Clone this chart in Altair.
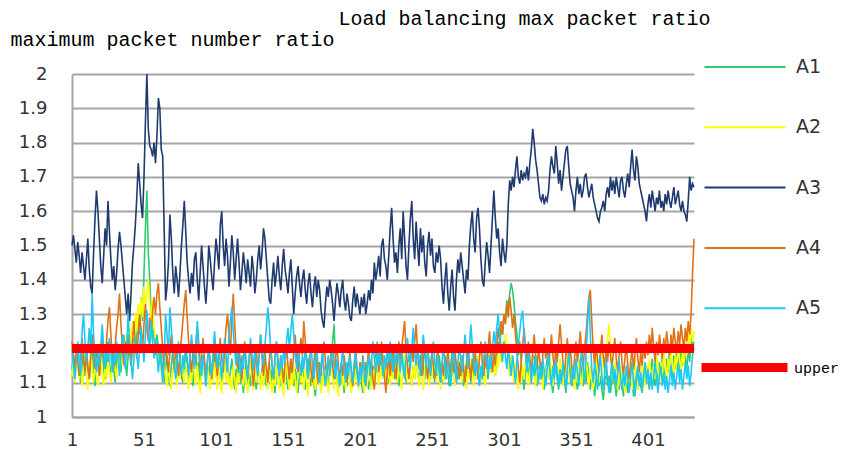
import altair as alt
import pandas as pd

A1 = [
    1.14, 1.18, 1.12, 1.16, 1.20, 1.13, 1.10, 1.15, 1.19, 1.12, 1.17, 1.14, 1.11, 1.16, 1.21, 1.13, 1.09, 1.15, 1.18, 1.12,
    1.16, 1.20, 1.14, 1.11, 1.17, 1.22, 1.15, 1.12, 1.18, 1.14, 1.10, 1.16, 1.21, 1.17, 1.13, 1.19, 1.24, 1.16, 1.12, 1.18,
    1.22, 1.15, 1.20, 1.26, 1.19, 1.23, 1.30, 1.24, 1.35, 1.28, 1.42, 1.55, 1.66, 1.48, 1.40, 1.30, 1.22, 1.26, 1.18, 1.24,
    1.20, 1.15, 1.19, 1.13, 1.10, 1.14, 1.18, 1.12, 1.09, 1.15, 1.19, 1.13, 1.16, 1.11, 1.14, 1.18, 1.12, 1.10, 1.15, 1.20,
    1.14, 1.11, 1.17, 1.13, 1.09, 1.15, 1.19, 1.12, 1.16, 1.10, 1.14, 1.18, 1.13, 1.09, 1.15, 1.12, 1.17, 1.11, 1.14, 1.19,
    1.13, 1.10, 1.16, 1.12, 1.08, 1.14, 1.18, 1.11, 1.15, 1.10, 1.13, 1.17, 1.12, 1.08, 1.14, 1.11, 1.16, 1.10, 1.13, 1.07,
    1.12, 1.16, 1.10, 1.14, 1.09, 1.13, 1.17, 1.11, 1.08, 1.15, 1.12, 1.10, 1.14, 1.18, 1.12, 1.09, 1.13, 1.16, 1.10, 1.14,
    1.11, 1.07, 1.13, 1.17, 1.12, 1.09, 1.14, 1.10, 1.16, 1.12, 1.08, 1.13, 1.17, 1.11, 1.09, 1.14, 1.12, 1.07, 1.13, 1.10,
    1.15, 1.11, 1.08, 1.13, 1.17, 1.12, 1.09, 1.14, 1.10, 1.06, 1.12, 1.16, 1.11, 1.08, 1.13, 1.10, 1.15, 1.12, 1.09, 1.14,
    1.18, 1.22, 1.27, 1.16, 1.11, 1.08, 1.13, 1.10, 1.14, 1.07, 1.12, 1.09, 1.15, 1.11, 1.08, 1.13, 1.10, 1.16, 1.12, 1.09,
    1.14, 1.10, 1.07, 1.12, 1.16, 1.11, 1.08, 1.13, 1.09, 1.15, 1.12, 1.18, 1.22, 1.16, 1.12, 1.19, 1.15, 1.11, 1.17, 1.13,
    1.10, 1.16, 1.20, 1.14, 1.11, 1.17, 1.13, 1.09, 1.15, 1.19, 1.12, 1.16, 1.10, 1.14, 1.18, 1.12, 1.09, 1.15, 1.11, 1.17,
    1.13, 1.10, 1.16, 1.20, 1.14, 1.11, 1.17, 1.12, 1.09, 1.15, 1.19, 1.13, 1.10, 1.16, 1.12, 1.18, 1.14, 1.10, 1.15, 1.11,
    1.17, 1.13, 1.09, 1.15, 1.19, 1.12, 1.16, 1.10, 1.14, 1.11, 1.17, 1.13, 1.09, 1.15, 1.12, 1.18, 1.14, 1.10, 1.16, 1.12,
    1.15, 1.11, 1.17, 1.13, 1.10, 1.16, 1.12, 1.18, 1.14, 1.11, 1.17, 1.13, 1.19, 1.15, 1.12, 1.18, 1.22, 1.20, 1.26, 1.24,
    1.30, 1.28, 1.34, 1.32, 1.36, 1.39, 1.37, 1.33, 1.28, 1.24, 1.18, 1.22, 1.16, 1.12, 1.08, 1.13, 1.17, 1.12, 1.15, 1.10,
    1.14, 1.18, 1.12, 1.09, 1.15, 1.11, 1.16, 1.12, 1.08, 1.13, 1.17, 1.11, 1.14, 1.10, 1.07, 1.12, 1.16, 1.11, 1.08, 1.13,
    1.10, 1.15, 1.11, 1.07, 1.12, 1.16, 1.10, 1.13, 1.09, 1.14, 1.11, 1.08, 1.13, 1.17, 1.12, 1.09, 1.14, 1.10, 1.16, 1.12,
    1.08, 1.13, 1.10, 1.06, 1.11, 1.15, 1.09, 1.12, 1.08, 1.05, 1.10, 1.14, 1.09, 1.12, 1.07, 1.11, 1.15, 1.10, 1.06, 1.11,
    1.08, 1.13, 1.09, 1.06, 1.12, 1.10, 1.07, 1.13, 1.09, 1.11, 1.06, 1.10, 1.14, 1.08, 1.12, 1.09, 1.07, 1.13, 1.10, 1.15,
    1.11, 1.08, 1.13, 1.17, 1.12, 1.09, 1.14, 1.10, 1.16, 1.12, 1.18, 1.14, 1.11, 1.17, 1.13, 1.20, 1.15, 1.12, 1.18, 1.14,
    1.21, 1.16, 1.13, 1.19, 1.15, 1.22, 1.17, 1.14, 1.20, 1.16, 1.24, 1.20, 1.22,
]

A2 = [
    1.12, 1.16, 1.10, 1.14, 1.18, 1.11, 1.15, 1.09, 1.13, 1.17, 1.12, 1.08, 1.15, 1.19, 1.13, 1.10, 1.16, 1.12, 1.09, 1.14,
    1.18, 1.12, 1.09, 1.15, 1.11, 1.17, 1.13, 1.10, 1.16, 1.20, 1.14, 1.11, 1.17, 1.13, 1.19, 1.15, 1.22, 1.17, 1.24, 1.19,
    1.26, 1.21, 1.28, 1.23, 1.30, 1.25, 1.33, 1.27, 1.35, 1.29, 1.38, 1.32, 1.36, 1.40, 1.33, 1.28, 1.34, 1.26, 1.22, 1.18,
    1.14, 1.19, 1.13, 1.10, 1.16, 1.12, 1.09, 1.15, 1.11, 1.08, 1.14, 1.18, 1.12, 1.09, 1.15, 1.11, 1.17, 1.13, 1.10, 1.16,
    1.12, 1.08, 1.14, 1.10, 1.17, 1.13, 1.09, 1.15, 1.11, 1.07, 1.13, 1.17, 1.12, 1.09, 1.15, 1.11, 1.08, 1.14, 1.10, 1.16,
    1.12, 1.08, 1.15, 1.11, 1.07, 1.13, 1.17, 1.10, 1.14, 1.09, 1.12, 1.08, 1.15, 1.11, 1.07, 1.13, 1.10, 1.16, 1.12, 1.09,
    1.14, 1.10, 1.07, 1.13, 1.17, 1.11, 1.08, 1.14, 1.10, 1.15, 1.12, 1.08, 1.13, 1.09, 1.16, 1.12, 1.08, 1.14, 1.10, 1.07,
    1.13, 1.09, 1.15, 1.11, 1.08, 1.14, 1.10, 1.06, 1.12, 1.16, 1.11, 1.08, 1.13, 1.09, 1.15, 1.11, 1.07, 1.12, 1.16, 1.10,
    1.13, 1.08, 1.14, 1.10, 1.06, 1.12, 1.15, 1.09, 1.13, 1.08, 1.11, 1.15, 1.10, 1.07, 1.13, 1.09, 1.14, 1.11, 1.07, 1.12,
    1.16, 1.11, 1.08, 1.14, 1.10, 1.06, 1.12, 1.15, 1.09, 1.13, 1.08, 1.11, 1.16, 1.10, 1.07, 1.13, 1.09, 1.14, 1.11, 1.08,
    1.12, 1.16, 1.10, 1.07, 1.13, 1.09, 1.15, 1.11, 1.08, 1.14, 1.10, 1.17, 1.13, 1.09, 1.15, 1.11, 1.18, 1.14, 1.10, 1.16,
    1.12, 1.09, 1.15, 1.11, 1.18, 1.14, 1.10, 1.16, 1.12, 1.08, 1.14, 1.19, 1.13, 1.10, 1.16, 1.12, 1.09, 1.15, 1.11, 1.17,
    1.13, 1.09, 1.15, 1.11, 1.08, 1.14, 1.18, 1.12, 1.09, 1.15, 1.11, 1.17, 1.13, 1.10, 1.16, 1.12, 1.08, 1.14, 1.10, 1.16,
    1.12, 1.18, 1.14, 1.10, 1.16, 1.12, 1.09, 1.15, 1.11, 1.17, 1.13, 1.10, 1.16, 1.12, 1.08, 1.14, 1.11, 1.17, 1.13, 1.09,
    1.15, 1.11, 1.18, 1.14, 1.10, 1.16, 1.12, 1.09, 1.15, 1.21, 1.17, 1.13, 1.19, 1.15, 1.12, 1.18, 1.14, 1.20, 1.16, 1.22,
    1.18, 1.24, 1.20, 1.16, 1.12, 1.18, 1.14, 1.10, 1.16, 1.12, 1.08, 1.14, 1.10, 1.15, 1.11, 1.17, 1.13, 1.09, 1.15, 1.11,
    1.17, 1.13, 1.09, 1.14, 1.10, 1.16, 1.12, 1.08, 1.14, 1.10, 1.15, 1.11, 1.17, 1.13, 1.09, 1.14, 1.20, 1.15, 1.11, 1.17,
    1.13, 1.09, 1.15, 1.11, 1.18, 1.14, 1.10, 1.16, 1.12, 1.08, 1.14, 1.10, 1.16, 1.12, 1.09, 1.15, 1.11, 1.17, 1.13, 1.09,
    1.15, 1.11, 1.08, 1.14, 1.19, 1.13, 1.10, 1.16, 1.21, 1.15, 1.12, 1.18, 1.23, 1.27, 1.20, 1.14, 1.10, 1.16, 1.12, 1.08,
    1.13, 1.09, 1.15, 1.11, 1.07, 1.12, 1.16, 1.10, 1.14, 1.08, 1.12, 1.17, 1.11, 1.08, 1.14, 1.10, 1.16, 1.12, 1.09, 1.15,
    1.11, 1.17, 1.13, 1.09, 1.15, 1.11, 1.18, 1.14, 1.10, 1.16, 1.12, 1.19, 1.15, 1.11, 1.17, 1.13, 1.20, 1.16, 1.12, 1.18,
    1.14, 1.21, 1.17, 1.13, 1.19, 1.15, 1.22, 1.18, 1.24, 1.20, 1.26, 1.22, 1.25,
]

A3 = [
    1.50, 1.53, 1.49, 1.45, 1.51, 1.47, 1.42, 1.48, 1.44, 1.40, 1.46, 1.52, 1.43, 1.38, 1.36, 1.48, 1.58, 1.66, 1.60, 1.52,
    1.44, 1.39, 1.47, 1.55, 1.50, 1.63, 1.54, 1.46, 1.40, 1.44, 1.37, 1.42, 1.49, 1.54, 1.50, 1.45, 1.40, 1.35, 1.30, 1.36,
    1.28, 1.36, 1.45, 1.50, 1.56, 1.64, 1.74, 1.68, 1.62, 1.58, 1.70, 1.86, 2.00, 1.84, 1.79, 1.78, 1.76, 1.80, 1.74, 1.82,
    1.93, 1.90, 1.78, 1.76, 1.55, 1.34, 1.38, 1.45, 1.59, 1.52, 1.42, 1.36, 1.44, 1.40, 1.35, 1.42, 1.50, 1.56, 1.63, 1.54,
    1.45, 1.40, 1.36, 1.42, 1.38, 1.46, 1.48, 1.40, 1.34, 1.42, 1.50, 1.44, 1.38, 1.33, 1.40, 1.50, 1.46, 1.41, 1.37, 1.45,
    1.52, 1.48, 1.43, 1.56, 1.60, 1.50, 1.44, 1.52, 1.47, 1.38, 1.45, 1.53, 1.48, 1.40, 1.46, 1.52, 1.45, 1.37, 1.42, 1.48,
    1.44, 1.39, 1.46, 1.42, 1.38, 1.47, 1.43, 1.36, 1.40, 1.46, 1.50, 1.43, 1.48, 1.55, 1.52, 1.46, 1.40, 1.34, 1.33, 1.40,
    1.45, 1.38, 1.42, 1.47, 1.41, 1.37, 1.44, 1.49, 1.43, 1.40, 1.36, 1.42, 1.46, 1.38, 1.30, 1.36, 1.41, 1.44, 1.39, 1.35,
    1.40, 1.43, 1.37, 1.33, 1.39, 1.42, 1.36, 1.32, 1.38, 1.41, 1.35, 1.40, 1.37, 1.31, 1.28, 1.26, 1.33, 1.38, 1.35, 1.40,
    1.37, 1.33, 1.28, 1.34, 1.39, 1.36, 1.32, 1.37, 1.40, 1.34, 1.31, 1.36, 1.33, 1.29, 1.28, 1.34, 1.38, 1.32, 1.36, 1.33,
    1.30, 1.35, 1.32, 1.36, 1.30, 1.33, 1.37, 1.34, 1.40, 1.36, 1.45, 1.40, 1.43, 1.47, 1.41, 1.50, 1.52, 1.46, 1.44, 1.40,
    1.47, 1.55, 1.61, 1.52, 1.45, 1.48, 1.42, 1.50, 1.55, 1.46, 1.60, 1.52, 1.44, 1.40, 1.50, 1.58, 1.63, 1.52, 1.46, 1.57,
    1.50, 1.44, 1.55, 1.48, 1.53, 1.45, 1.41, 1.50, 1.54, 1.47, 1.52, 1.44, 1.42, 1.48, 1.45, 1.50, 1.46, 1.38, 1.33, 1.40,
    1.45, 1.36, 1.31, 1.38, 1.43, 1.35, 1.31, 1.40, 1.46, 1.42, 1.48, 1.44, 1.40, 1.36, 1.43, 1.40, 1.50, 1.56, 1.60, 1.52,
    1.48, 1.58, 1.61, 1.55, 1.46, 1.40, 1.38, 1.45, 1.51, 1.47, 1.42, 1.50, 1.58, 1.66, 1.58, 1.52, 1.55, 1.48, 1.44, 1.52,
    1.48, 1.45, 1.50, 1.62, 1.69, 1.66, 1.70, 1.67, 1.72, 1.76, 1.70, 1.68, 1.72, 1.69, 1.71, 1.70, 1.73, 1.69, 1.74, 1.78,
    1.84, 1.80, 1.75, 1.72, 1.68, 1.64, 1.63, 1.65, 1.62, 1.64, 1.63, 1.66, 1.72, 1.76, 1.73, 1.71, 1.79, 1.74, 1.68, 1.72,
    1.66, 1.70, 1.74, 1.78, 1.79, 1.73, 1.68, 1.66, 1.64, 1.60, 1.66, 1.70, 1.65, 1.68, 1.64, 1.66, 1.70, 1.71, 1.67, 1.64,
    1.66, 1.68, 1.64, 1.62, 1.60, 1.58, 1.57, 1.60, 1.61, 1.63, 1.60, 1.65, 1.67, 1.64, 1.70, 1.66, 1.69, 1.65, 1.70, 1.67,
    1.64, 1.69, 1.70, 1.66, 1.64, 1.68, 1.71, 1.67, 1.73, 1.78, 1.72, 1.69, 1.76, 1.73, 1.68, 1.66, 1.64, 1.62, 1.60, 1.57,
    1.62, 1.65, 1.61, 1.66, 1.63, 1.60, 1.64, 1.62, 1.66, 1.61, 1.63, 1.60, 1.65, 1.62, 1.66, 1.63, 1.61, 1.64, 1.67, 1.62,
    1.64, 1.66, 1.62, 1.60, 1.63, 1.60, 1.59, 1.57, 1.63, 1.70, 1.66, 1.68, 1.67,
]

A4 = [
    1.22, 1.18, 1.14, 1.20, 1.16, 1.12, 1.19, 1.23, 1.17, 1.13, 1.20, 1.15, 1.11, 1.18, 1.24, 1.19, 1.14, 1.21, 1.16, 1.12,
    1.19, 1.25, 1.18, 1.14, 1.22, 1.28, 1.32, 1.24, 1.18, 1.14, 1.21, 1.26, 1.30, 1.36, 1.27, 1.20, 1.15, 1.22, 1.18, 1.24,
    1.19, 1.15, 1.22, 1.28, 1.21, 1.17, 1.24, 1.30, 1.25, 1.20, 1.27, 1.33, 1.26, 1.22, 1.29, 1.24, 1.31, 1.35, 1.30, 1.36,
    1.39, 1.32, 1.26, 1.20, 1.15, 1.21, 1.17, 1.13, 1.19, 1.24, 1.18, 1.14, 1.20, 1.16, 1.12, 1.18, 1.23, 1.28, 1.33, 1.37,
    1.29, 1.22, 1.17, 1.13, 1.19, 1.15, 1.21, 1.26, 1.19, 1.14, 1.18, 1.23, 1.17, 1.12, 1.16, 1.21, 1.15, 1.11, 1.17, 1.22,
    1.16, 1.12, 1.18, 1.23, 1.17, 1.13, 1.20, 1.26, 1.30, 1.24, 1.18, 1.29, 1.36, 1.27, 1.19, 1.14, 1.20, 1.16, 1.11, 1.17,
    1.22, 1.15, 1.11, 1.17, 1.21, 1.14, 1.09, 1.15, 1.20, 1.13, 1.18, 1.24, 1.17, 1.12, 1.19, 1.14, 1.10, 1.16, 1.21, 1.15,
    1.11, 1.17, 1.22, 1.16, 1.12, 1.18, 1.14, 1.10, 1.16, 1.21, 1.15, 1.11, 1.17, 1.13, 1.19, 1.24, 1.17, 1.13, 1.19, 1.23,
    1.18, 1.28, 1.22, 1.16, 1.12, 1.18, 1.14, 1.10, 1.16, 1.20, 1.14, 1.10, 1.16, 1.12, 1.18, 1.22, 1.16, 1.12, 1.17, 1.13,
    1.19, 1.15, 1.11, 1.17, 1.21, 1.15, 1.11, 1.16, 1.12, 1.18, 1.14, 1.10, 1.15, 1.19, 1.13, 1.09, 1.15, 1.20, 1.14, 1.10,
    1.16, 1.12, 1.18, 1.14, 1.09, 1.15, 1.20, 1.13, 1.17, 1.11, 1.08, 1.14, 1.19, 1.13, 1.17, 1.22, 1.16, 1.12, 1.07, 1.13,
    1.18, 1.12, 1.16, 1.21, 1.15, 1.11, 1.17, 1.22, 1.16, 1.20, 1.24, 1.28, 1.20, 1.15, 1.11, 1.17, 1.21, 1.16, 1.22, 1.27,
    1.19, 1.14, 1.18, 1.12, 1.16, 1.21, 1.15, 1.11, 1.17, 1.13, 1.19, 1.15, 1.11, 1.16, 1.20, 1.14, 1.10, 1.16, 1.12, 1.18,
    1.14, 1.20, 1.15, 1.11, 1.17, 1.13, 1.19, 1.15, 1.11, 1.16, 1.12, 1.18, 1.14, 1.10, 1.16, 1.21, 1.15, 1.11, 1.17, 1.13,
    1.19, 1.15, 1.11, 1.17, 1.22, 1.16, 1.12, 1.18, 1.14, 1.20, 1.25, 1.18, 1.13, 1.19, 1.15, 1.21, 1.26, 1.22, 1.28, 1.24,
    1.30, 1.27, 1.33, 1.29, 1.35, 1.31, 1.26, 1.30, 1.24, 1.19, 1.14, 1.10, 1.16, 1.21, 1.26, 1.20, 1.15, 1.22, 1.17, 1.13,
    1.19, 1.24, 1.18, 1.14, 1.20, 1.16, 1.12, 1.18, 1.23, 1.17, 1.21, 1.15, 1.19, 1.24, 1.18, 1.14, 1.20, 1.16, 1.22, 1.27,
    1.21, 1.16, 1.12, 1.18, 1.23, 1.17, 1.21, 1.15, 1.11, 1.17, 1.22, 1.16, 1.20, 1.25, 1.19, 1.14, 1.20, 1.24, 1.30, 1.35,
    1.37, 1.28, 1.20, 1.15, 1.21, 1.17, 1.13, 1.19, 1.24, 1.18, 1.14, 1.20, 1.16, 1.22, 1.18, 1.14, 1.19, 1.23, 1.17, 1.13,
    1.18, 1.22, 1.16, 1.12, 1.17, 1.21, 1.15, 1.11, 1.16, 1.20, 1.14, 1.18, 1.23, 1.17, 1.13, 1.19, 1.15, 1.21, 1.17, 1.22,
    1.18, 1.24, 1.19, 1.26, 1.20, 1.16, 1.22, 1.18, 1.24, 1.20, 1.17, 1.23, 1.19, 1.25, 1.21, 1.18, 1.24, 1.20, 1.26, 1.22,
    1.19, 1.25, 1.21, 1.27, 1.23, 1.20, 1.26, 1.22, 1.28, 1.24, 1.30, 1.42, 1.52,
]

A5 = [
    1.20, 1.15, 1.11, 1.17, 1.22, 1.16, 1.12, 1.25, 1.30, 1.22, 1.16, 1.20, 1.26, 1.18, 1.36, 1.24, 1.17, 1.13, 1.19, 1.15,
    1.21, 1.27, 1.19, 1.14, 1.20, 1.16, 1.23, 1.18, 1.13, 1.19, 1.15, 1.22, 1.17, 1.12, 1.18, 1.24, 1.19, 1.14, 1.21, 1.30,
    1.22, 1.16, 1.11, 1.17, 1.23, 1.18, 1.14, 1.20, 1.26, 1.21, 1.16, 1.24, 1.31, 1.25, 1.19, 1.28, 1.22, 1.17, 1.23, 1.18,
    1.13, 1.19, 1.15, 1.10, 1.16, 1.30, 1.24, 1.18, 1.32, 1.26, 1.20, 1.15, 1.11, 1.17, 1.22, 1.16, 1.12, 1.18, 1.14, 1.21,
    1.17, 1.12, 1.18, 1.24, 1.19, 1.14, 1.20, 1.28, 1.22, 1.16, 1.12, 1.18, 1.14, 1.09, 1.15, 1.21, 1.16, 1.12, 1.19, 1.25,
    1.19, 1.14, 1.20, 1.16, 1.11, 1.17, 1.23, 1.18, 1.13, 1.24, 1.28, 1.32, 1.25, 1.19, 1.15, 1.21, 1.17, 1.12, 1.18, 1.14,
    1.20, 1.16, 1.11, 1.17, 1.23, 1.18, 1.14, 1.20, 1.16, 1.12, 1.18, 1.24, 1.19, 1.15, 1.21, 1.26, 1.32, 1.27, 1.20, 1.15,
    1.11, 1.17, 1.22, 1.16, 1.12, 1.18, 1.14, 1.20, 1.16, 1.22, 1.26, 1.20, 1.25, 1.30, 1.24, 1.18, 1.14, 1.20, 1.16, 1.12,
    1.18, 1.14, 1.20, 1.16, 1.11, 1.17, 1.21, 1.15, 1.11, 1.16, 1.20, 1.14, 1.10, 1.15, 1.19, 1.13, 1.09, 1.14, 1.18, 1.12,
    1.16, 1.21, 1.15, 1.11, 1.17, 1.13, 1.09, 1.15, 1.20, 1.14, 1.10, 1.16, 1.12, 1.18, 1.14, 1.10, 1.15, 1.19, 1.13, 1.09,
    1.15, 1.11, 1.17, 1.13, 1.09, 1.14, 1.18, 1.12, 1.16, 1.22, 1.17, 1.13, 1.19, 1.15, 1.21, 1.16, 1.12, 1.18, 1.14, 1.20,
    1.16, 1.22, 1.17, 1.13, 1.19, 1.15, 1.21, 1.17, 1.13, 1.19, 1.15, 1.11, 1.17, 1.23, 1.18, 1.14, 1.20, 1.26, 1.19, 1.15,
    1.21, 1.16, 1.12, 1.18, 1.24, 1.19, 1.14, 1.20, 1.16, 1.12, 1.17, 1.22, 1.16, 1.12, 1.18, 1.14, 1.10, 1.16, 1.21, 1.15,
    1.11, 1.17, 1.13, 1.09, 1.15, 1.20, 1.14, 1.10, 1.16, 1.21, 1.17, 1.13, 1.19, 1.24, 1.18, 1.14, 1.20, 1.27, 1.21, 1.16,
    1.12, 1.17, 1.13, 1.09, 1.15, 1.11, 1.17, 1.22, 1.16, 1.12, 1.18, 1.14, 1.20, 1.25, 1.21, 1.26, 1.30, 1.24, 1.20, 1.16,
    1.22, 1.18, 1.14, 1.20, 1.16, 1.12, 1.18, 1.14, 1.10, 1.16, 1.21, 1.25, 1.29, 1.31, 1.24, 1.18, 1.13, 1.19, 1.15, 1.11,
    1.16, 1.12, 1.18, 1.14, 1.10, 1.15, 1.11, 1.17, 1.13, 1.09, 1.14, 1.19, 1.13, 1.09, 1.15, 1.11, 1.17, 1.13, 1.09, 1.14,
    1.10, 1.16, 1.12, 1.08, 1.14, 1.19, 1.13, 1.09, 1.15, 1.11, 1.17, 1.13, 1.09, 1.15, 1.20, 1.14, 1.10, 1.18, 1.26, 1.35,
    1.24, 1.14, 1.10, 1.16, 1.12, 1.08, 1.14, 1.18, 1.12, 1.08, 1.13, 1.17, 1.11, 1.07, 1.12, 1.16, 1.10, 1.14, 1.09, 1.13,
    1.17, 1.11, 1.08, 1.13, 1.09, 1.15, 1.11, 1.07, 1.12, 1.16, 1.10, 1.06, 1.11, 1.15, 1.09, 1.13, 1.08, 1.12, 1.16, 1.10,
    1.14, 1.09, 1.13, 1.08, 1.12, 1.16, 1.11, 1.07, 1.12, 1.15, 1.09, 1.13, 1.08, 1.12, 1.07, 1.11, 1.15, 1.09, 1.13, 1.08,
    1.12, 1.16, 1.10, 1.14, 1.08, 1.12, 1.16, 1.11, 1.15, 1.09, 1.13, 1.18, 1.20,
]

UPPER_X = [1, 433]
UPPER_Y = [1.2, 1.2]

SERIES = ["A1", "A2", "A3", "A4", "A5"]
COLORS = ["#2ecc6e", "#ffff00", "#1e3a6e", "#e07318", "#1ec8f5"]
UPPER_NAME = "upper"
UPPER_COLOR = "#ff0000"
X_TICKS = [1, 51, 101, 151, 201, 251, 301, 351, 401]
Y_TICKS = [1.0, 1.1, 1.2, 1.3, 1.4, 1.5, 1.6, 1.7, 1.8, 1.9, 2.0]
X_MAX = 433
MAIN_TITLE = "Load balancing max packet ratio"
Y_TITLE = "maximum packet number ratio"

rows = []
for name, vals in zip(SERIES, [A1, A2, A3, A4, A5]):
    for i, v in enumerate(vals, start=1):
        rows.append({"x": i, "y": v, "series": name})
df = pd.DataFrame(rows)
df_upper = pd.DataFrame({"x": UPPER_X, "y": UPPER_Y, "series": [UPPER_NAME] * len(UPPER_X)})

GRID = "#a6a6a6"
TICK_FONT = "DejaVu Sans"
MONO = "Liberation Mono"

x_scale = alt.Scale(domain=[1, X_MAX], nice=False, zero=False)
y_scale = alt.Scale(domain=[1, 2], nice=False, zero=False)

x_enc = alt.X(
    "x:Q",
    scale=x_scale,
    axis=alt.Axis(
        values=X_TICKS, grid=False, ticks=False, domain=True,
        domainColor=GRID, domainWidth=2, labelFlush=False,
        labelFont=TICK_FONT, labelFontSize=18, labelColor="#333333",
        labelPadding=14, title=None,
    ),
)

series_lines = alt.Chart(df).mark_line(strokeWidth=1.6, strokeCap="butt").encode(
    x=x_enc,
    y=alt.Y(
        "y:Q",
        scale=y_scale,
        axis=alt.Axis(
            orient="left",
            values=Y_TICKS, format="~g", grid=True, gridColor=GRID, gridWidth=2,
            ticks=False, domain=True, domainColor=GRID, domainWidth=2,
            labelFont=TICK_FONT, labelFontSize=18, labelColor="#333333",
            labelPadding=25, labelFlush=False,
            title=Y_TITLE, titleAngle=0, titleAlign="left",
            titleBaseline="alphabetic", titleX=-62, titleY=-29,
            titleFont=MONO, titleFontSize=20, titleFontWeight="normal",
            titleColor="#000000",
        ),
    ),
    color=alt.Color(
        "series:N",
        scale=alt.Scale(domain=SERIES, range=COLORS),
        legend=alt.Legend(
            orient="none", legendX=662, legendY=-18, title=None,
            symbolType="M-4.05,0H4.05", symbolSize=400, symbolStrokeWidth=2,
            labelOffset=40, rowPadding=39.3, labelFont=TICK_FONT,
            labelFontSize=19, labelColor="#333333", padding=0,
        ),
    ),
)

upper_line = alt.Chart(df_upper).mark_line(strokeWidth=9, strokeCap="butt").encode(
    x=x_enc,
    y=alt.Y(
        "y:Q",
        scale=y_scale,
        axis=alt.Axis(
            orient="right", labels=False, ticks=False, domain=False, grid=False,
            title=MAIN_TITLE, titleAngle=0, titleAlign="left",
            titleBaseline="alphabetic", titleX=-356, titleY=-50,
            titleFont=MONO, titleFontSize=20, titleFontWeight="normal",
            titleColor="#000000",
        ),
    ),
    color=alt.Color(
        "series:N",
        scale=alt.Scale(domain=[UPPER_NAME], range=[UPPER_COLOR]),
        legend=alt.Legend(
            orient="none", legendX=658, legendY=279, title=None,
            symbolType="M-4.3,0H4.3", symbolSize=400, symbolStrokeWidth=9,
            labelOffset=35, labelFont=MONO, labelFontSize=15,
            labelColor="#000000", padding=0,
        ),
    ),
)

chart = alt.layer(series_lines, upper_line).resolve_scale(
    color="independent"
).resolve_axis(
    y="independent"
).properties(
    width=622,
    height=343,
    autosize=alt.AutoSizeParams(type="none"),
    padding={"left": 64, "top": 66, "right": 149, "bottom": 37},
).configure_view(stroke=None)

chart.save("out.html", embed_options={"renderer": "svg", "actions": False})
